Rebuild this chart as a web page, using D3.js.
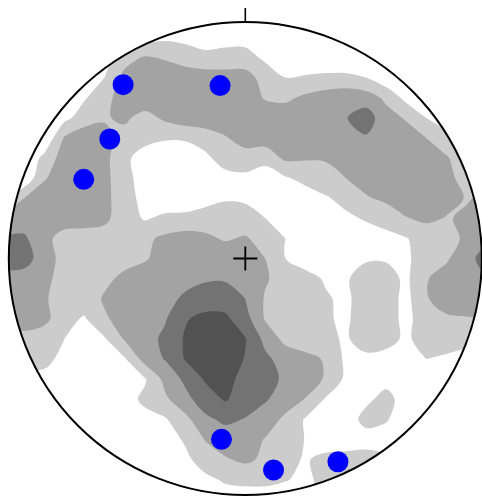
<!DOCTYPE html>
<html>
<head>
<meta charset="utf-8">
<script src="https://cdn.jsdelivr.net/npm/d3@7"></script>
<style>
  html, body { margin: 0; padding: 0; background: #ffffff; }
  svg { display: block; }
</style>
</head>
<body>
<svg id="chart" width="482" height="496"></svg>
<script>
// Pole density on a regular grid over the projected net (row 0 = north edge).
const densityRows = [
  [0,0,0,0,0,0,0,0,0,0,0,0,0,0,0,0,0,0,0,0,0,0,0,0,0],
  [0,0,0,0,0,0,0,0.5,0.8,0.7,0.5,0.6,0.6,0.3,0,0,0,0,0,0,0,0,0,0,0],
  [0,0,0,0,0,0.5,1.6,2.1,1.9,1.6,1.3,1.4,1.4,0.8,0.3,0.3,0.3,0.3,0.2,0,0,0,0,0,0],
  [0,0,0,0,0.3,1.0,2.3,2.6,2.6,2.5,2.5,2.4,2.4,1.6,1.0,1.1,1.2,1.2,1.0,0.3,0.2,0,0,0,0],
  [0,0,0,0.2,0.9,1.6,2.6,2.8,2.8,2.8,2.8,2.8,2.6,1.9,1.8,2.2,2.5,2.7,2.5,1.8,0.7,0.2,0,0,0],
  [0,0,0.2,0.7,1.5,1.9,2.2,1.6,2.2,2.6,2.7,2.8,2.8,2.7,2.6,2.6,2.7,2.95,3.5,2.4,1.9,1.0,0.4,0,0],
  [0,0,0.1,2.1,2.6,2.3,1.6,1.3,1.1,1.1,1.4,1.9,2.5,2.5,2.5,2.6,2.7,2.8,2.9,2.8,2.5,2.0,1.4,1.0,0.5],
  [0,0.1,1.3,2.5,2.6,2.3,1.2,0.6,0.4,0.5,0.8,1.4,1.5,1.4,2.2,2.1,2.1,2.3,2.5,2.6,2.7,2.6,2.1,1.4,1.0],
  [0,0.2,1.9,2.6,2.6,2.3,1.3,0.6,0.3,0.2,0.3,0.7,0.8,0.4,0.9,1.3,1.6,2.0,2.4,2.6,2.6,2.6,2.3,1.6,1.0],
  [1.0,2.0,2.6,2.6,2.6,2.3,1.4,0.7,0.4,0.3,0.6,0.9,0.85,0.5,0.4,0.5,0.9,1.3,1.9,2.2,2.5,2.5,2.3,1.95,2.1],
  [2.3,2.5,2.6,2.5,2.4,2.2,1.5,0.9,1.2,1.3,1.5,1.5,1.4,1.0,0.6,0.5,0.6,0.8,1.1,1.4,1.95,2.2,1.95,2.1,2.2],
  [3.1,3.15,2.3,1.6,1.6,1.6,1.6,1.8,2.2,2.4,2.2,1.9,2.1,1.6,1.0,0.6,0.4,0.4,0.5,0.7,0.95,1.4,1.6,2.2,2.5],
  [3.4,3.5,2.4,1.7,1.6,1.6,1.7,1.9,2.4,2.5,2.6,2.6,2.5,2.0,1.0,0.6,0.5,0.7,0.9,0.9,0.8,1.6,1.9,2.5,3.6],
  [2.6,2.5,2.2,1.7,1.6,1.8,2.2,2.5,2.6,2.8,2.9,2.9,2.6,2.1,1.6,1.3,0.9,0.9,1.4,1.4,0.8,1.95,2.3,2.4,2.8],
  [2.5,2.4,2.1,1.6,1.5,2.1,2.4,2.6,2.8,3.1,3.4,3.5,3.0,1.9,1.6,1.5,1.1,0.8,1.5,1.5,0.7,1.95,2.3,2.4,2.3],
  [2.3,2.3,2.3,1.3,0.9,1.9,2.3,2.6,2.9,3.9,4.3,4.2,3.4,1.9,1.5,1.4,1.1,0.85,1.5,1.5,0.7,1.6,1.9,1.95,2.0],
  [1.5,1.8,1.4,1.0,0.4,0.9,2.1,2.6,3.2,4.1,4.6,4.6,4.05,2.7,1.7,1.4,1.2,0.9,1.4,1.4,0.8,1.5,1.6,1.4,1.0],
  [1.0,1.3,1.4,0.6,0.3,0.4,0.9,2.4,3.05,4.05,4.5,4.5,3.95,3.2,2.6,2.3,1.9,0.8,0.8,0.6,0.5,1.0,0.8,0.5,0.3],
  [0.3,0.6,0.6,0.2,0.2,0.3,0.5,0.9,2.3,3.2,4.1,4.3,3.7,3.4,2.8,2.5,1.9,0.8,0.5,0.7,0.4,0.2,0.2,0.2,0.2],
  [0.2,0.2,0.2,0.2,0.2,0.3,0.6,1.2,1.8,2.7,3.5,4.1,3.5,3.1,2.5,1.95,0.9,0.4,0.8,1.3,0.6,0.2,0.1,0.1,0.1],
  [0.1,0.1,0.1,0.2,0.2,0.2,0.3,0.7,0.9,1.7,2.8,3.2,2.95,2.5,1.8,0.9,0.4,0.5,1.3,1.1,0.4,0.1,0.1,0.1,0.1],
  [0.1,0.1,0.1,0.1,0.2,0.2,0.2,0.3,0.6,1.1,2.05,2.5,2.4,1.95,1.6,0.95,0.4,0.3,0.6,0.5,0.2,0.1,0.1,0.1,0.1],
  [0.1,0.1,0.1,0.1,0.1,0.1,0.2,0.2,0.3,0.8,1.4,1.9,2.2,1.8,1.3,0.9,1.3,1.5,1.4,1.2,0.5,0.1,0.1,0.1,0.1],
  [0.1,0.1,0.1,0.1,0.1,0.1,0.1,0.1,0.2,0.4,0.8,1.1,1.2,1.2,1.05,0.8,1.3,1.4,1.3,1.0,0.1,0.1,0.1,0.1,0.1],
  [0.1,0.1,0.1,0.1,0.1,0.1,0.1,0.1,0.1,0.2,0.4,0.6,0.6,0.6,0.5,0.6,1.2,1.3,1.0,0.1,0.1,0.1,0.1,0.1,0.1]
];

// Contour levels and their fills
const levels = [1, 2, 3, 4];
const levelFills = ["#cccccc", "#a3a3a3", "#737373", "#525252"];

// Highlighted lineations: trend and plunge in degrees
const poleTrend  = [324.9, 351.7, 311.4, 296.1, 187.5, 172.4, 155.5];
const polePlunge = [11.1, 27.0, 24.6, 24.9, 23.9, 10.7, 6.2];

// Layout
const cx = 245.3, cy = 258.5, R = 236.5;
const gridHalf = 1.02;            // grid half-width in projected units
const nx = densityRows[0].length, ny = densityRows.length;

const x = d3.scaleLinear().domain([-1, 1]).range([cx - R, cx + R]);
const y = d3.scaleLinear().domain([-1, 1]).range([cy + R, cy - R]);

// contour-grid coordinates -> projected units (sample k sits at k + 0.5)
const gx = d3.scaleLinear().domain([0.5, nx - 0.5]).range([-gridHalf, gridHalf]);
const gy = d3.scaleLinear().domain([0.5, ny - 0.5]).range([gridHalf, -gridHalf]);

// Lambert equal-area (Schmidt) lower-hemisphere projection
function project(trend, plunge) {
  const r = Math.SQRT2 * Math.sin((90 - plunge) / 2 * Math.PI / 180);
  const t = trend * Math.PI / 180;
  return [r * Math.sin(t), r * Math.cos(t)];
}

const svg = d3.select("#chart");

svg.append("defs").append("clipPath").attr("id", "net")
  .append("circle").attr("cx", x(0)).attr("cy", y(0)).attr("r", R);

const contours = d3.contours()
  .size([nx, ny])
  .thresholds(levels)(densityRows.flat());

const ringLine = d3.line()
  .x(p => x(gx(p[0])))
  .y(p => y(gy(p[1])))
  .curve(d3.curveCatmullRomClosed.alpha(0.5));

svg.append("g").attr("clip-path", "url(#net)")
  .selectAll("path")
  .data(contours)
  .join("path")
  .attr("fill", (d, i) => levelFills[i])
  .attr("fill-rule", "evenodd")
  .attr("d", d => d.coordinates
    .map(poly => poly.map(ring => ringLine(ring.slice(0, -1))).join(""))
    .join(""));

// Primitive circle
svg.append("circle")
  .attr("cx", x(0)).attr("cy", y(0)).attr("r", R)
  .attr("fill", "none").attr("stroke", "#000").attr("stroke-width", 2);

// North tick
svg.append("line")
  .attr("x1", x(0)).attr("x2", x(0))
  .attr("y1", y(1)).attr("y2", y(1) - 14)
  .attr("stroke", "#000").attr("stroke-width", 1.6);

// Centre cross
const arm = 12;
svg.append("path")
  .attr("d", `M${x(0) - arm},${y(0)}H${x(0) + arm}M${x(0)},${y(0) - arm}V${y(0) + arm}`)
  .attr("stroke", "#000").attr("stroke-width", 1.8).attr("fill", "none");

// Lineation points
const poles = poleTrend.map((t, i) => project(t, polePlunge[i]));
svg.append("g").selectAll("circle")
  .data(poles)
  .join("circle")
  .attr("cx", d => x(d[0]))
  .attr("cy", d => y(d[1]))
  .attr("r", 10.5)
  .attr("fill", "#0000ff");
</script>
</body>
</html>
